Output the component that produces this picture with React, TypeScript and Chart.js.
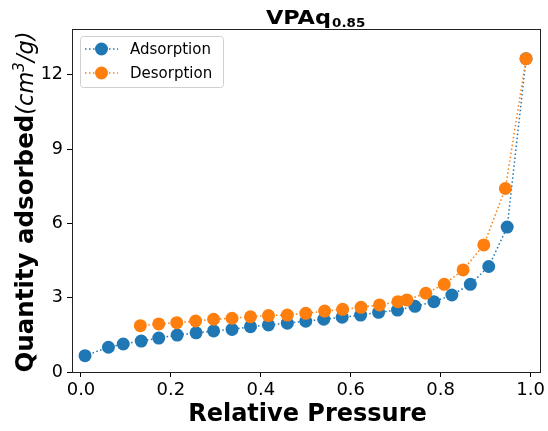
import React, { useEffect, useRef } from "react";
import { Chart, registerables } from "chart.js";

Chart.register(...registerables);

const adsorptionX = [0.009, 0.061, 0.094, 0.134, 0.173, 0.214, 0.256, 0.295, 0.336, 0.377, 0.417, 0.459, 0.5, 0.54, 0.581, 0.622, 0.662, 0.704, 0.743, 0.785, 0.825, 0.866, 0.907, 0.948, 0.99];
const adsorptionY = [0.66, 1.0, 1.13, 1.25, 1.37, 1.49, 1.58, 1.66, 1.72, 1.83, 1.9, 1.97, 2.05, 2.13, 2.21, 2.3, 2.41, 2.5, 2.65, 2.84, 3.11, 3.54, 4.26, 5.85, 12.65];
const desorptionX = [0.132, 0.173, 0.213, 0.255, 0.295, 0.336, 0.377, 0.417, 0.459, 0.5, 0.542, 0.582, 0.623, 0.664, 0.705, 0.725, 0.767, 0.808, 0.85, 0.896, 0.944, 0.99];
const desorptionY = [1.87, 1.94, 1.99, 2.06, 2.13, 2.17, 2.23, 2.28, 2.3, 2.37, 2.46, 2.53, 2.61, 2.71, 2.84, 2.91, 3.18, 3.54, 4.12, 5.13, 7.41, 12.65];
const xTicks = [0, 0.2, 0.4, 0.6, 0.8, 1.0];
const yTicks = [0, 3, 6, 9, 12];
const seriesLabels = ["Adsorption", "Desorption"];
const titleMain = "VPAq";
const titleSub = "0.85";
const xTitle = "Relative Pressure";
const yTitleBold = "Quantity adsorbed";

const BLUE = "#1f77b4";
const ORANGE = "#ff7f0e";
const FONT = "'DejaVu Sans', sans-serif";

const decorPlugin = {
  id: "decor",
  afterDatasetsDraw(chart: any) {
    const ctx = chart.ctx as CanvasRenderingContext2D;
    const a = chart.chartArea;
    ctx.save();
    // box
    ctx.strokeStyle = "#222";
    ctx.lineWidth = 1;
    ctx.strokeRect(Math.round(a.left) + 0.5, Math.round(a.top) + 0.5, Math.round(a.right - a.left), Math.round(a.bottom - a.top));

    // legend
    const lx = 80, ly = 36, lw = 143, lh = 51;
    ctx.beginPath();
    (ctx as any).roundRect(lx + 0.5, ly + 0.5, lw, lh, 3);
    ctx.fillStyle = "rgba(255,255,255,0.8)";
    ctx.fill();
    ctx.strokeStyle = "#d0d0d0";
    ctx.stroke();
    chart.data.datasets.forEach((ds: any, i: number) => {
      const cy = 49 + i * 24;
      ctx.strokeStyle = ds.borderColor;
      ctx.lineWidth = 1.5;
      ctx.setLineDash([1.5, 2.5]);
      ctx.beginPath();
      ctx.moveTo(85, cy);
      ctx.lineTo(118, cy);
      ctx.stroke();
      ctx.setLineDash([]);
      ctx.fillStyle = ds.backgroundColor;
      ctx.beginPath();
      ctx.arc(101.5, cy, 6.5, 0, Math.PI * 2);
      ctx.fill();
      ctx.fillStyle = "#000";
      ctx.font = `15px ${FONT}`;
      ctx.textBaseline = "middle";
      ctx.textAlign = "left";
      ctx.fillText(ds.label, 130, cy + 1);
    });

    // title (slightly wide, as in the reference)
    ctx.textBaseline = "alphabetic";
    ctx.fillStyle = "#000";
    const sx = 1.12;
    ctx.font = `bold 20px ${FONT}`;
    const w1 = ctx.measureText(titleMain).width * sx;
    ctx.font = `bold 12px ${FONT}`;
    const w2 = ctx.measureText(titleSub).width * sx;
    const tx = 315 - (w1 + w2) / 2;
    ctx.save();
    ctx.translate(tx, 24);
    ctx.scale(sx, 1);
    ctx.font = `bold 20px ${FONT}`;
    ctx.fillText(titleMain, 0, 0);
    ctx.font = `bold 12px ${FONT}`;
    ctx.fillText(titleSub, w1 / sx + 1, 3);
    ctx.restore();

    // x title
    ctx.font = `bold 24px ${FONT}`;
    ctx.textAlign = "center";
    ctx.fillText(xTitle, 307.5, 421);

    // y title
    ctx.textAlign = "left";
    const segs = [
      { t: yTitleBold, f: `bold 24.5px ${FONT}`, dy: 0 },
      { t: "(cm", f: `italic 22.5px ${FONT}`, dy: 0 },
      { t: "3", f: `italic 15px ${FONT}`, dy: -9 },
      { t: "/g)", f: `italic 22.5px ${FONT}`, dy: 0 },
    ];
    let total = 0;
    const widths = segs.map((s) => {
      ctx.font = s.f;
      const w = ctx.measureText(s.t).width;
      total += w;
      return w;
    });
    ctx.translate(33, 202);
    ctx.rotate(-Math.PI / 2);
    let px = -total / 2;
    segs.forEach((s, i) => {
      ctx.font = s.f;
      ctx.fillText(s.t, px, s.dy);
      px += widths[i];
    });
    ctx.restore();
  },
};

export default function App() {
  const ref = useRef<HTMLCanvasElement>(null);
  useEffect(() => {
    const canvas = ref.current!;
    const chart = new Chart(canvas, {
      type: "line",
      data: {
        datasets: [
          {
            label: seriesLabels[0],
            data: adsorptionX.map((x, i) => ({ x, y: adsorptionY[i] })),
            borderColor: BLUE,
            backgroundColor: BLUE,
            pointRadius: 6.5,
            pointBorderWidth: 0,
            borderWidth: 1.5,
            borderDash: [1.5, 2.5],
            tension: 0,
            order: 1,
            clip: false,
          } as any,
          {
            label: seriesLabels[1],
            data: desorptionX.map((x, i) => ({ x, y: desorptionY[i] })),
            borderColor: ORANGE,
            backgroundColor: ORANGE,
            pointRadius: 6.5,
            pointBorderWidth: 0,
            borderWidth: 1.5,
            borderDash: [1.5, 2.5],
            tension: 0,
            order: 0,
            clip: false,
          } as any,
        ],
      },
      options: {
        animation: false,
        responsive: false,
        events: [],
        layout: { padding: { top: 29, right: 7, left: 0, bottom: 0 } },
        scales: {
          x: {
            type: "linear",
            min: -0.02,
            max: 1.02,
            afterBuildTicks: (s: any) => {
              s.ticks = xTicks.map((v) => ({ value: v }));
            },
            afterFit: (s: any) => {
              s.height = 59;
            },
            ticks: {
              color: "#000",
              font: { family: FONT, size: 18 },
              padding: 3,
              maxRotation: 0,
              autoSkip: false,
              callback: (v: any) => Number(v).toFixed(1),
            },
            grid: { drawOnChartArea: false, drawTicks: true, tickLength: 5, tickColor: "#000", color: "#000" },
            border: { display: false },
          },
          y: {
            type: "linear",
            min: 0,
            max: 13.85,
            afterBuildTicks: (s: any) => {
              s.ticks = yTicks.map((v) => ({ value: v }));
            },
            afterFit: (s: any) => {
              s.width = 72;
            },
            ticks: {
              color: "#000",
              font: { family: FONT, size: 17.5 },
              padding: 4,
              autoSkip: false,
              callback: (v: any) => String(v),
            },
            grid: { drawOnChartArea: false, drawTicks: true, tickLength: 5, tickColor: "#000", color: "#000" },
            border: { display: false },
          },
        },
        plugins: {
          legend: { display: false },
          title: { display: false },
          tooltip: { enabled: false },
        },
      },
      plugins: [decorPlugin],
    } as any);
    return () => chart.destroy();
  }, []);
  return (
    <div style={{ position: "fixed", left: 0, top: 0, width: 548, height: 431, background: "#fff" }}>
      <canvas ref={ref} width={548} height={431} style={{ width: 548, height: 431, display: "block" }} />
    </div>
  );
}
